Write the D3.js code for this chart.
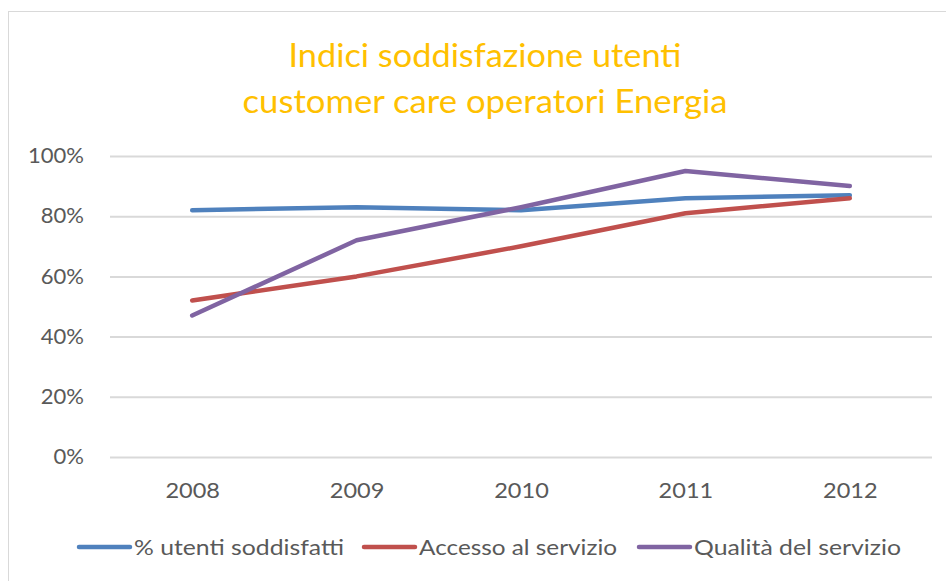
<!DOCTYPE html>
<html>
<head>
<meta charset="utf-8">
<script src="https://cdn.jsdelivr.net/npm/d3@7"></script>
<style>
  html, body { margin: 0; padding: 0; background: #fff; }
  svg { display: block; }
  text { font-family: Lato, "Open Sans", sans-serif; }
</style>
</head>
<body>
<svg id="chart" width="946" height="581"></svg>
<script>
const years = ["2008", "2009", "2010", "2011", "2012"];
const seriesNames = ["% utenti soddisfatti", "Accesso al servizio", "Qualità del servizio"];
const utentiSoddisfatti = [0.82, 0.83, 0.82, 0.86, 0.87];
const accessoServizio = [0.52, 0.60, 0.70, 0.81, 0.86];
const qualitaServizio = [0.47, 0.72, 0.83, 0.95, 0.90];
const yTicks = [0, 0.2, 0.4, 0.6, 0.8, 1.0];
const titleLines = ["Indici soddisfazione utenti", "customer care operatori Energia"];
const colors = ["#4F81BD", "#C0504D", "#8064A2"];

const series = [utentiSoddisfatti, accessoServizio, qualitaServizio];

const svg = d3.select("#chart");

// stretch text horizontally to mimic the narrower-looking but wider-set original font
function stretch(sel, factor) {
  sel.each(function() {
    const w = this.getComputedTextLength();
    d3.select(this).attr("textLength", w * factor).attr("lengthAdjust", "spacingAndGlyphs");
  });
}

// chart border
svg.append("rect")
  .attr("x", 8.5).attr("y", 11.5)
  .attr("width", 960).attr("height", 600)
  .attr("fill", "#fff")
  .attr("stroke", "#d9d9d9").attr("stroke-width", 1);

// title
const titleWidths = [393, 485];
titleLines.forEach((t, i) => {
  svg.append("text")
    .attr("text-anchor", "middle")
    .attr("fill", "#FFC000")
    .attr("font-size", 32)
    .attr("x", 485).attr("y", 67 + i * 46)
    .attr("textLength", titleWidths[i])
    .attr("lengthAdjust", "spacingAndGlyphs")
    .text(t);
});

const x = d3.scalePoint().domain(years).range([110, 932]).padding(0.5);
const y = d3.scaleLinear().domain([0, 1]).range([457, 156]);

// gridlines
const yAxis = d3.axisLeft(y).tickValues(yTicks).tickSize(-(932 - 110)).tickFormat(d3.format(".0%")).tickPadding(26);
const gy = svg.append("g").attr("transform", "translate(110,0)").call(yAxis);
gy.select(".domain").remove();
gy.selectAll(".tick line").attr("stroke", "#d9d9d9").attr("stroke-width", 2);
gy.selectAll(".tick text")
  .attr("fill", "#595959")
  .attr("font-size", 21)
  .attr("font-family", "Lato, 'Open Sans', sans-serif");
stretch(gy.selectAll(".tick text"), 1.05);

// x axis labels
const xAxis = d3.axisBottom(x).tickSize(0).tickPadding(26);
const gx = svg.append("g").attr("transform", "translate(0,457)").call(xAxis);
gx.select(".domain").remove();
gx.selectAll(".tick text")
  .attr("fill", "#595959")
  .attr("font-size", 21)
  .attr("font-family", "Lato, 'Open Sans', sans-serif");
stretch(gx.selectAll(".tick text"), 1.12);

// lines
const line = d3.line().x((d, i) => x(years[i])).y(d => y(d));
series.forEach((s, k) => {
  svg.append("path")
    .datum(s)
    .attr("d", line)
    .attr("fill", "none")
    .attr("stroke", colors[k])
    .attr("stroke-width", 4.5)
    .attr("stroke-linecap", "round")
    .attr("stroke-linejoin", "round");
});

// legend
const legendX = [79, 364, 639];
const legendTextW = [210, 198, 207];
const legend = svg.append("g");
seriesNames.forEach((name, k) => {
  const g = legend.append("g").attr("transform", `translate(${legendX[k]},547)`);
  g.append("line")
    .attr("x1", 0).attr("x2", 51).attr("y1", 0).attr("y2", 0)
    .attr("stroke", colors[k]).attr("stroke-width", 4.5)
    .attr("stroke-linecap", "round");
  g.append("text")
    .attr("x", 55).attr("y", 7.5)
    .attr("fill", "#595959")
    .attr("font-size", 21)
    .attr("textLength", legendTextW[k])
    .attr("lengthAdjust", "spacingAndGlyphs")
    .text(name);
});
</script>
</body>
</html>
